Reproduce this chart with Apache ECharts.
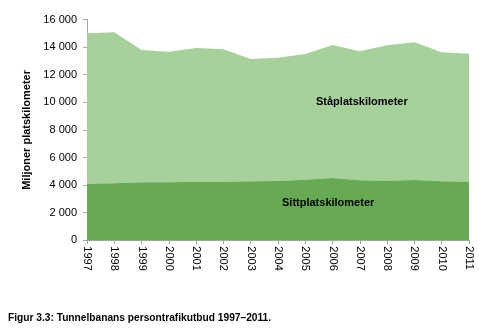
<!DOCTYPE html>
<html>
<head>
<meta charset="utf-8">
<script src="https://cdn.jsdelivr.net/npm/echarts@6/dist/echarts.min.js"></script>
<style>
  html, body { margin: 0; padding: 0; background: #fff; }
  #chart { width: 479px; height: 328px; }
</style>
</head>
<body>
<div id="chart"></div>
<script>
// Tunnelbanans persontrafikutbud, miljoner platskilometer
const years = ['1997','1998','1999','2000','2001','2002','2003','2004','2005','2006','2007','2008','2009','2010','2011'];
const sittplats = [4100, 4130, 4200, 4200, 4250, 4250, 4270, 4300, 4390, 4510, 4350, 4320, 4370, 4270, 4250];
const totalt    = [15000, 15070, 13790, 13670, 13930, 13840, 13140, 13230, 13500, 14150, 13700, 14130, 14350, 13620, 13520];
const staplats = totalt.map((t, i) => t - sittplats[i]);

const yTicks = { min: 0, max: 16000, interval: 2000 };

const chart = echarts.init(document.getElementById('chart'));
const font = 'Liberation Sans, Arial, sans-serif';

chart.setOption({
  animation: false,
  grid: { left: 87, right: 10, top: 19.5, bottom: 87.7 },
  xAxis: {
    type: 'category',
    data: years,
    boundaryGap: false,
    axisLine: { lineStyle: { color: '#a6a6a6', width: 1 } },
    axisTick: { show: true, length: 4, alignWithLabel: true, lineStyle: { color: '#a6a6a6' } },
    axisLabel: { rotate: -90, color: '#000', fontFamily: font, fontSize: 11, margin: 6, interval: 0 },
    splitLine: { show: false }
  },
  yAxis: {
    type: 'value',
    min: yTicks.min, max: yTicks.max, interval: yTicks.interval,
    name: 'Miljoner platskilometer',
    nameLocation: 'middle',
    nameGap: 55,
    nameTextStyle: { fontFamily: font, fontSize: 11, fontWeight: 'bold', color: '#000' },
    axisLine: { show: true, lineStyle: { color: '#a6a6a6', width: 1 } },
    axisTick: { show: true, length: 4, lineStyle: { color: '#a6a6a6' } },
    axisLabel: {
      color: '#000', fontFamily: font, fontSize: 11, margin: 10,
      formatter: v => v >= 1000 ? Math.floor(v / 1000) + ' ' + String(v % 1000).padStart(3, '0') : String(v)
    },
    splitLine: { show: false }
  },
  series: [
    {
      name: 'Sittplatskilometer',
      type: 'line',
      stack: 'total',
      data: sittplats,
      symbol: 'none',
      lineStyle: { width: 0 },
      areaStyle: { color: '#67aa53', opacity: 1 },
      z: 2
    },
    {
      name: 'Ståplatskilometer',
      type: 'line',
      stack: 'total',
      data: staplats,
      symbol: 'none',
      lineStyle: { width: 0 },
      areaStyle: { color: '#a6d19a', opacity: 1 },
      z: 1
    }
  ],
  graphic: [
    { type: 'text', z: 100, left: 316, top: 96, style: { text: 'Ståplatskilometer', font: 'bold 11px ' + font, fill: '#000' } },
    { type: 'text', z: 100, left: 282, top: 197, style: { text: 'Sittplatskilometer', font: 'bold 11px ' + font, fill: '#000' } },
    { type: 'text', z: 100, left: 8, top: 313, style: { text: 'Figur 3.3: Tunnelbanans persontrafikutbud 1997–2011.', font: 'bold 10.2px ' + font, fill: '#000' } }
  ]
});
</script>
</body>
</html>
